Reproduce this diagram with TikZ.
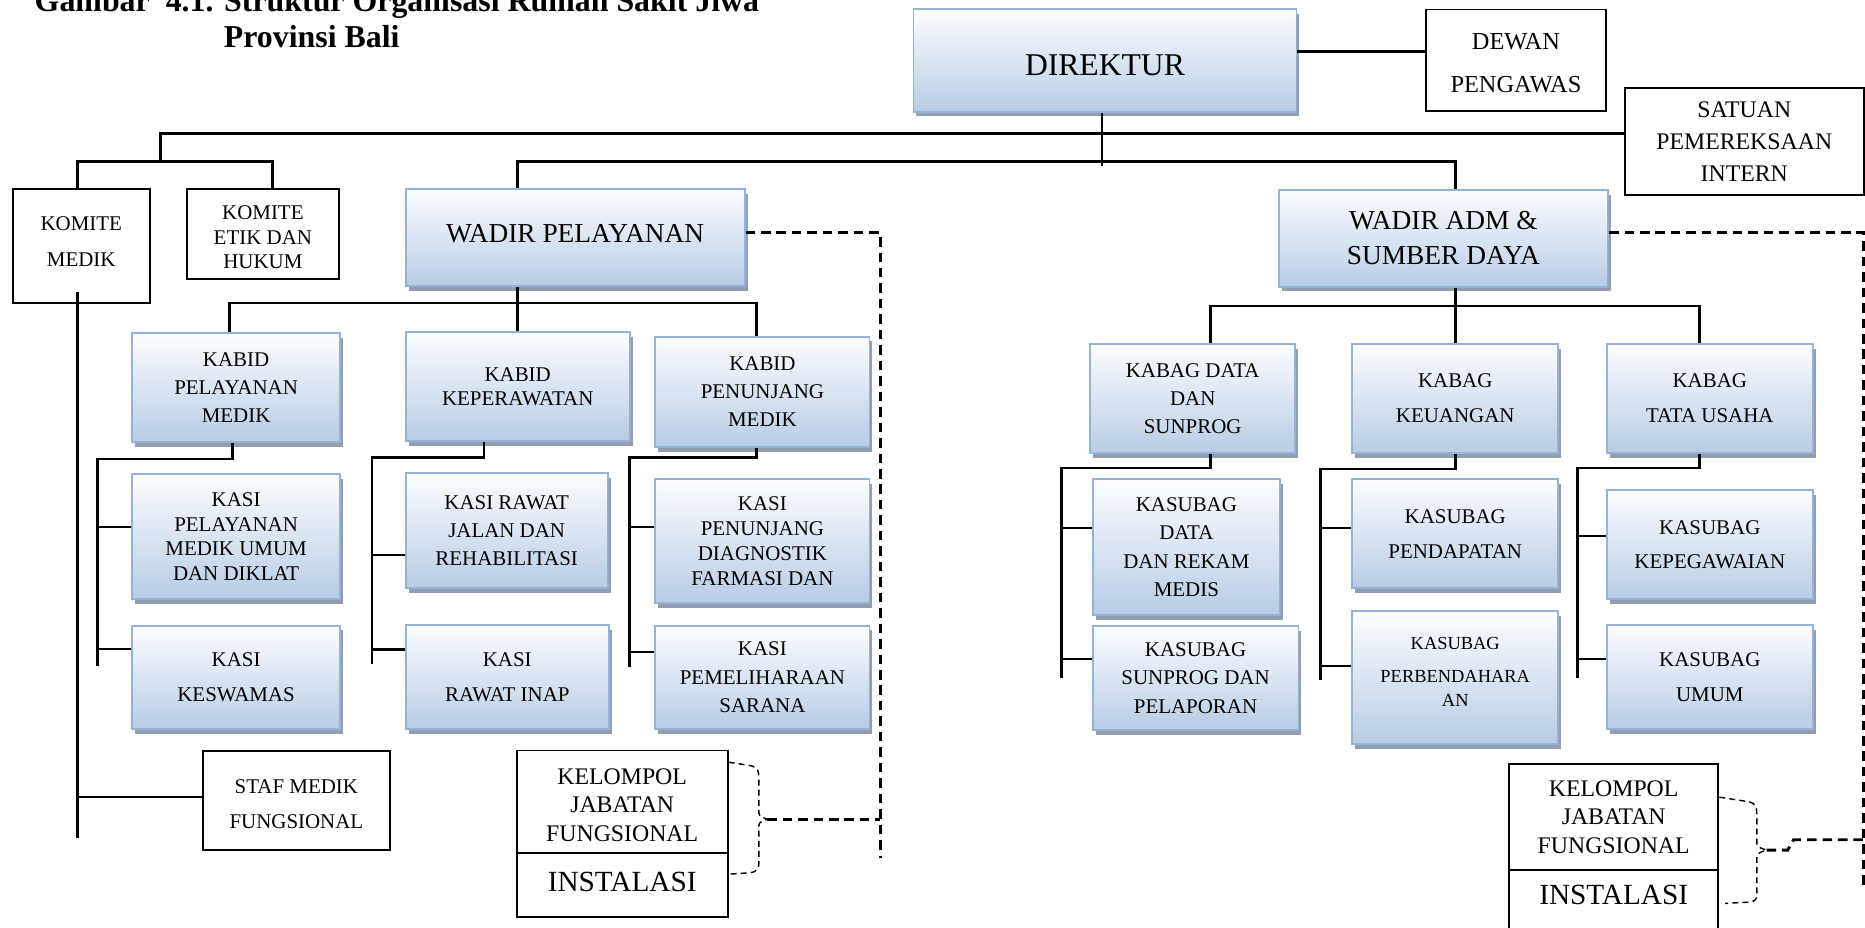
\documentclass[tikz,border=0pt]{standalone}
\usepackage{fontspec}
\setmainfont{Liberation Serif}
\usetikzlibrary{shadows}
\definecolor{bordc}{RGB}{149,179,215}
\definecolor{gtop}{RGB}{252,253,255}
\definecolor{gbot}{RGB}{184,204,228}
\definecolor{shadc}{RGB}{146,158,176}
\begin{document}
\begin{tikzpicture}[x=1pt,y=-1pt,
  fs/.style 2 args={font=\fontsize{#1}{#2}\selectfont},
  gbox/.style={draw=bordc, line width=1.6pt, top color=gtop, bottom color=gbot,
    drop shadow={shadow xshift=2.5pt, shadow yshift=-4pt, fill=shadc, opacity=1},
    align=center, inner sep=0pt},
  wbox/.style={draw=black, line width=1.6pt, fill=white, align=center, inner sep=0pt},
  txt/.style={align=center, inner sep=0pt},
  conn/.style={line width=2.2pt, black},
  dconn/.style={line width=2.5pt, black, dash pattern=on 8pt off 5pt},
  brc/.style={line width=1.2pt, black, dash pattern=on 5pt off 3.5pt}]
\useasboundingbox (0,0) rectangle (1568,780);
\clip (0,0) rectangle (1568,780);
\fill[white] (0,0) rectangle (1568,780);

% title
\node[anchor=base west, inner sep=0pt, font=\fontsize{26.8}{30}\selectfont\bfseries] (title1) at (29,9.8) {Gambar\ \ 4.1. Struktur Organisasi Rumah Sakit Jiwa};
\node[anchor=base west, inner sep=0pt, font=\fontsize{26.8}{30}\selectfont\bfseries] (title2) at (188,39.8) {Provinsi Bali};

% top level
\node[gbox, minimum width=322pt, minimum height=86pt, fs={26.6}{30}, text height=25.2pt, text depth=0pt] (dir) at (929,50.9) {DIREKTUR};
\node[wbox, minimum width=151pt, minimum height=85pt] (dewan) at (1274.5,50.5) {};
\node[txt, fs={20.5}{36.5}] (dewanT) at ([yshift=-2.75pt]dewan.center) {DEWAN\\PENGAWAS};
\node[wbox, minimum width=201pt, minimum height=90pt, fs={20}{27}] (satuan) at (1466.5,119) {SATUAN\\PEMEREKSAAN\\INTERN};
\node[wbox, minimum width=115.4pt, minimum height=96pt] (komed) at (68.3,207) {};
\node[txt, fs={17.6}{30}] (komedT) at ([yshift=4pt]komed.center) {KOMITE\\MEDIK};
\node[wbox, minimum width=128pt, minimum height=75.6pt] (koetik) at (221,196.8) {};
\node[txt, fs={17.6}{20.5}] (koetikT) at ([yshift=-2.7pt]koetik.center) {KOMITE\\ETIK DAN\\HUKUM};

% wadir pelayanan branch
\node[gbox, minimum width=285pt, minimum height=81.5pt, fs={23}{28}, text height=15pt, text depth=7.5pt] (wadirpel) at (483.5,199.75) {WADIR PELAYANAN};
\node[gbox, minimum width=175pt, minimum height=91.6pt, fs={17.6}{23.5}] (kabidpel) at (198.5,325.8) {KABID\\PELAYANAN\\MEDIK};
\node[gbox, minimum width=188.5pt, minimum height=92pt, fs={17.6}{20.5}] (kabidkep) at (435.25,325) {KABID\\KEPERAWATAN};
\node[gbox, minimum width=180pt, minimum height=92.6pt, fs={17.6}{23.5}] (kabidpen) at (641,329.3) {KABID\\PENUNJANG\\MEDIK};
\node[gbox, minimum width=175pt, minimum height=105pt, fs={17.6}{20.7}] (kasipel) at (198.5,451.1) {KASI\\PELAYANAN\\MEDIK UMUM\\DAN DIKLAT};
\node[gbox, minimum width=175pt, minimum height=87pt, fs={17.6}{29.5}] (kasikes) at (198.5,569.5) {KASI\\KESWAMAS};
\node[gbox, minimum width=170pt, minimum height=96.6pt, fs={17.6}{23.4}] (kasirj) at (426,446.3) {KASI RAWAT\\JALAN DAN\\REHABILITASI};
\node[gbox, minimum width=171pt, minimum height=87.5pt, fs={17.6}{29}] (kasiri) at (426.5,569.25) {KASI\\RAWAT INAP};
\node[gbox, minimum width=180pt, minimum height=104pt, fs={17.6}{21}] (kasipen) at (641,455) {KASI\\PENUNJANG\\DIAGNOSTIK\\FARMASI DAN};
\node[gbox, minimum width=180pt, minimum height=87pt, fs={17.6}{23.8}] (kasipem) at (641,569.5) {KASI\\PEMELIHARAAN\\SARANA};
\node[wbox, minimum width=157.6pt, minimum height=83pt] (staf) at (249.2,673.15) {};
\node[txt, fs={17.6}{29.5}] (stafT) at ([yshift=-3.1pt]staf.center) {STAF MEDIK\\FUNGSIONAL};
\node[wbox, minimum width=177.4pt, minimum height=86pt] (kelL) at (523.1,674) {};
\node[txt, fs={20}{24}] (kelLT) at ([yshift=-2.8pt]kelL.center) {KELOMPOL\\JABATAN\\FUNGSIONAL};
\node[wbox, minimum width=177.4pt, minimum height=54pt, fs={24.6}{28}, text height=16.3pt, text depth=5.4pt] (instL) at (523.1,744) {INSTALASI};

% wadir adm branch
\node[gbox, minimum width=277pt, minimum height=81.3pt, fs={23}{29.4}] (wadiradm) at (1213.5,200.35) {WADIR ADM \&\\SUMBER DAYA};
\node[gbox, minimum width=172.5pt, minimum height=92pt, fs={17.6}{23.7}] (kabagdata) at (1002.75,335) {KABAG DATA\\DAN\\SUNPROG};
\node[gbox, minimum width=173pt, minimum height=92pt, fs={17.6}{29.5}] (kabagkeu) at (1223.5,335) {KABAG\\KEUANGAN};
\node[gbox, minimum width=173pt, minimum height=92pt, fs={17.6}{29.5}] (kabagtu) at (1437.5,335) {KABAG\\TATA USAHA};
\node[gbox, minimum width=157.7pt, minimum height=114.2pt, fs={17.6}{24}] (ksdata) at (997.45,459.9) {KASUBAG\\DATA\\DAN REKAM\\MEDIS};
\node[gbox, minimum width=173.1pt, minimum height=87.5pt, fs={17.6}{23.8}] (kssun) at (1005.15,570.05) {KASUBAG\\SUNPROG DAN\\PELAPORAN};
\node[gbox, minimum width=173pt, minimum height=91.8pt, fs={17.6}{29.4}] (kspend) at (1223.5,448.7) {KASUBAG\\PENDAPATAN};
\node[gbox, minimum width=173pt, minimum height=111.8pt] (ksperb) at (1223.5,569.6) {};
\node[txt, fs={15.5}{19.6}] (ksperbT) at ([yshift=5pt]ksperb.center) {KASUBAG\\[8.7pt]PERBENDAHARA\\AN};
\node[gbox, minimum width=173pt, minimum height=91.9pt, fs={17.6}{29}] (kskep) at (1437.5,457.95) {KASUBAG\\KEPEGAWAIAN};
\node[gbox, minimum width=173pt, minimum height=87.7pt, fs={17.6}{29.5}] (ksumum) at (1437.5,569.35) {KASUBAG\\UMUM};
\node[wbox, minimum width=176pt, minimum height=88.9pt, fs={20}{23.7}] (kelR) at (1356.7,687.05) {KELOMPOL\\JABATAN\\FUNGSIONAL};
\node[wbox, minimum width=176pt, minimum height=58.5pt, fs={24.6}{28}, text height=16.3pt, text depth=16.5pt] (instR) at (1356.7,760.75) {INSTALASI};

% top connectors
\coordinate (kb) at (135,136);
\draw[conn] ([xshift=-2.4pt]dir.south) -- ++(0,44.7);
\draw[conn] ([xshift=-3.3pt]komed.north) |- (kb) -| ([xshift=8pt]koetik.north);
\draw[conn] (kb) |- (satuan.west |- 0,112);
\draw[conn] ([yshift=7.4pt]dir.east) -- ([yshift=7.4pt]dir.east -| dewan.west);
\draw[conn] (wadirpel.north -| kabidkep.north) |- (kabagkeu.north |- kb) -- (wadiradm.north -| kabagkeu.north);

% under wadir pelayanan
\draw[conn] (wadirpel.south -| kabidkep.north) -- (kabidkep.north);
\draw[conn] ([xshift=-5.5pt]kabidpel.north) -- ++(0,-24.4) -| ([xshift=-5pt]kabidpen.north);
\draw[conn] ([xshift=-3pt]kabidpel.south) -- ++(0,13.4) -| (82,560);
\draw[conn] ([yshift=8.1pt]kasipel.west) -- ++(-29,0);
\draw[conn] ([yshift=23.9pt]kasikes.west) -- ++(-29,0);
\draw[conn] ([xshift=-28.25pt]kabidkep.south) -- ++(0,12.6) -| (312.7,558);
\draw[conn] ([yshift=-20.4pt]kasirj.west) -- ++(-28.3,0);
\draw[conn] ([yshift=23.45pt]kasiri.west) -- ++(-28.3,0);
\draw[conn] ([xshift=-5pt]kabidpen.south) -- ++(0,8) -| (529.4,560.5);
\draw[conn] ([yshift=12pt]kasipen.west) -- ++(-21.6,0);
\draw[conn] ([yshift=21.5pt]kasipem.west) -- ++(-21.6,0);
\draw[conn] ([xshift=-3.3pt,yshift=10pt]komed.south) -- ++(0,458.7);
\draw[conn] ([yshift=3.15pt]staf.west) -- ++(-105.4,0);

% under wadir adm
\draw[conn] (wadiradm.south -| kabagkeu.north) -- (kabagkeu.north);
\draw[conn] ([xshift=14.75pt]kabagdata.north) -- ++(0,-31) -| ([xshift=-8.5pt]kabagtu.north);
\draw[conn] ([xshift=14.75pt]kabagdata.south) -- ++(0,11.8) -| (892.4,570);
\draw[conn] ([yshift=15.9pt]ksdata.west) -- ++(-26.2,0);
\draw[conn] ([yshift=16.05pt]kssun.west) -- ++(-26.2,0);
\draw[conn] (kabagkeu.south) -- ++(0,12.6) -| (1110,572);
\draw[conn] ([yshift=4.7pt]kspend.west) -- ++(-27,0);
\draw[conn] ([yshift=9.6pt]ksperb.west) -- ++(-27,0);
\draw[conn] ([xshift=-8.5pt]kabagtu.south) -- ++(0,11.8) -| (1326.4,570);
\draw[conn] ([yshift=7.35pt]kskep.west) -- ++(-24.6,0);
\draw[conn] ([yshift=15.35pt]ksumum.west) -- ++(-24.6,0);

% dashed lines
\draw[dconn] ([yshift=4.25pt]wadirpel.east) -| (740,721.5);
\draw[dconn] ([yshift=4.85pt]wadiradm.east) -| (1566.5,748);

% braces
\draw[brc] ([yshift=-10.6pt]kelL.north east) -- (630,643.5) .. controls (637.5,645) and (638,648) .. (638,654) -- (638,681) .. controls (638,686) .. (645,688.7) coordinate (tipL) .. controls (638,691.5) .. (638,696) -- (638,726) .. controls (638,731) and (636,733) .. (630,733.8) -- (611.8,735);
\draw[dconn] (tipL) -- (740,688.7);
\draw[brc] ([yshift=-28.4pt]kelR.north east) -- (1470,674) .. controls (1476,675.5) and (1477,678) .. (1477,684) -- (1477,706) .. controls (1477,712) .. (1485.3,714.7) coordinate (tipR) .. controls (1477,717.5) .. (1477,723) -- (1477,752) .. controls (1477,757) and (1475,758) .. (1470,758.5) -- (1450.3,759.5);
\draw[dconn] (tipR) -- (1503,714.7) -- (1508,706) -- (1566.5,706);
\end{tikzpicture}
\end{document}
